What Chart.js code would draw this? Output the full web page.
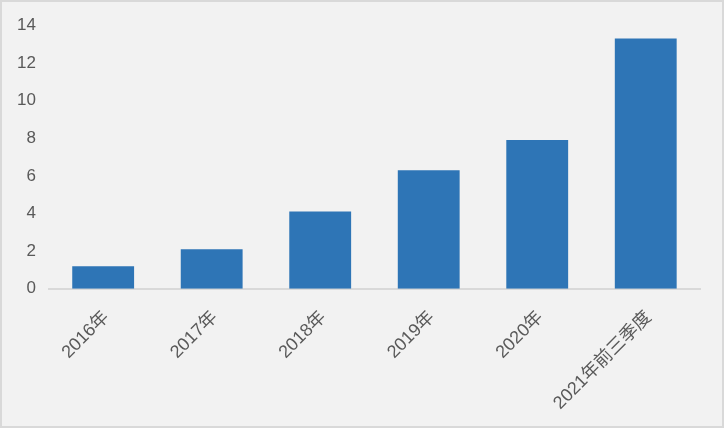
<!DOCTYPE html>
<html>
<head>
<meta charset="utf-8">
<script src="https://cdn.jsdelivr.net/npm/chart.js@4/dist/chart.umd.min.js"></script>
<style>
    html, body { margin: 0; padding: 0; background: #f2f2f2; }
    #wrap {
        width: 724px; height: 428px; box-sizing: border-box;
        border: 2px solid #d9d9d9; background: #f2f2f2; position: relative;
    }
</style>
</head>
<body>
<div id="wrap"><canvas id="chart-item"></canvas></div>
<script>
var categories = ['2016年', '2017年', '2018年', '2019年', '2020年', '2021年前三季度'];
var values = [1.2, 2.1, 4.1, 6.3, 7.9, 13.3];
var yTicks = [0, 2, 4, 6, 8, 10, 12, 14];

var fontFamily = '"Liberation Sans", Arial, "Noto Sans CJK SC", sans-serif';

var ctx = document.getElementById('chart-item').getContext('2d');
var chart = new Chart(ctx, {
    type: 'bar',
    data: {
        labels: categories,
        datasets: [{
            label: '',
            backgroundColor: '#2e75b6',
            borderWidth: 0,
            categoryPercentage: 1,
            barPercentage: 0.57,
            data: values
        }]
    },
    options: {
        responsive: true,
        maintainAspectRatio: false,
        animation: false,
        layout: {
            padding: { left: 2, right: 22, top: 15, bottom: 2 }
        },
        plugins: {
            legend: { display: false },
            tooltip: { enabled: false }
        },
        scales: {
            x: {
                grid: { display: false },
                border: { display: true, color: '#d9d9d9', width: 2 },
                // rotated first label should not push the plot to the right
                afterFit: function (scale) {
                    scale.paddingLeft = 0;
                },
                ticks: {
                    color: '#595959',
                    font: { family: fontFamily, size: 18 },
                    maxRotation: 45,
                    minRotation: 45,
                    padding: 10,
                    labelOffset: 3
                }
            },
            y: {
                min: yTicks[0],
                max: yTicks[yTicks.length - 1],
                grid: { display: false, drawTicks: false },
                border: { display: false },
                afterBuildTicks: function (axis) {
                    axis.ticks = yTicks.map(function (v) { return { value: v }; });
                },
                ticks: {
                    color: '#595959',
                    font: { family: fontFamily, size: 17 },
                    padding: 13
                }
            }
        }
    }
});
</script>
</body>
</html>
